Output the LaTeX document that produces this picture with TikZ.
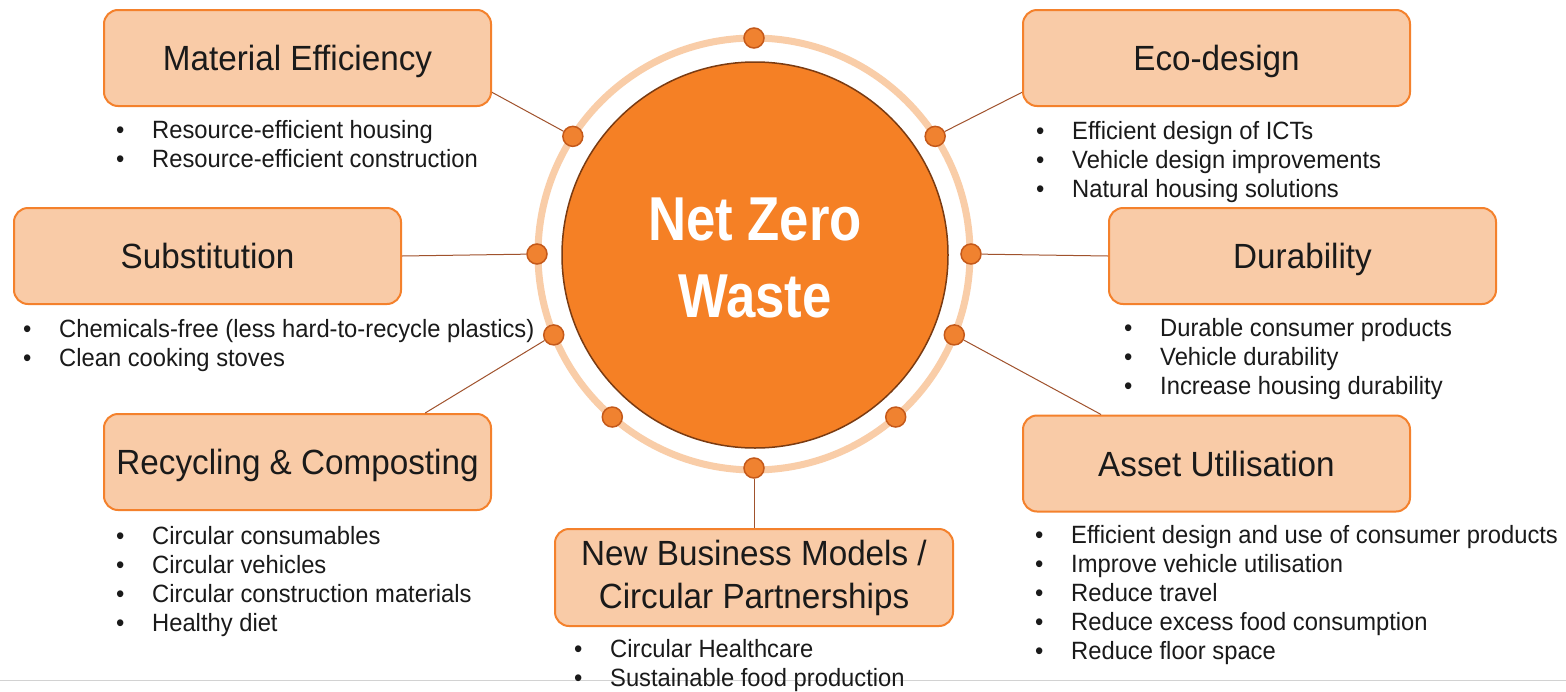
\documentclass[tikz,border=0pt]{standalone}
\usepackage{fontspec}
\setmainfont[FakeStretch=0.95]{Liberation Sans}
\newfontfamily\corefont[FakeStretch=0.85]{Liberation Sans}
\usetikzlibrary{calc}
\definecolor{boxfill}{HTML}{F9CBA7}
\definecolor{boxline}{HTML}{F4812C}
\definecolor{core}{HTML}{F58025}
\definecolor{coreline}{HTML}{7A3B12}
\definecolor{ringc}{HTML}{F9CDA8}
\definecolor{dotfill}{HTML}{F08230}
\definecolor{dotline}{HTML}{C4591A}
\definecolor{conn}{HTML}{A0522D}
\definecolor{txt}{HTML}{1A1A1A}
\newcommand\itm[1]{\textbullet & #1\\}
\newcommand\blst[1]{\begin{tabular}[t]{@{}p{36pt}@{}l@{}}#1\end{tabular}}
\begin{document}
\begin{tikzpicture}[x=1pt,y=-1pt,
  titlebox/.style={draw=boxline, line width=2pt, fill=boxfill, rounded corners=14pt,
    minimum width=387pt, minimum height=96pt, inner sep=0pt, text=txt,
    font=\fontsize{35}{42}\selectfont, align=center},
  oneline/.style={text height=25pt, text depth=0pt},
  blist/.style={anchor=base west, inner sep=0pt, text=txt, font=\fontsize{25}{29}\selectfont},
  dot/.style={circle, draw=dotline, line width=1.5pt, fill=dotfill, minimum size=20pt, inner sep=0pt},
  conn/.style={draw=conn, line width=1pt}]
\useasboundingbox (0,0) rectangle (1566,691);
\fill[white] (0,0) rectangle (1566,691);
\draw[gray!35, line width=1pt] (0,680) -- (1566,680);

% centre
\node[circle, draw=coreline, line width=1.5pt, fill=core, minimum size=386pt, inner sep=0pt] (c) at (755,255) {};
\node[text=white, font=\corefont\bfseries\fontsize{62}{77}\selectfont, align=center, inner sep=0pt] (t) at (755,258) {Net Zero\\Waste};
\coordinate (o) at (754,254);
\draw[ringc, line width=7pt] (o) circle (216pt);

% boxes
\node[titlebox, oneline] (me) at (297.5,58) {Material Efficiency};
\node[titlebox, oneline] (eco) at (1216.5,58) {Eco-design};
\node[titlebox, oneline] (sub) at (207.5,256) {Substitution};
\node[titlebox, oneline] (dur) at (1302.5,256) {Durability};
\node[titlebox, oneline] (rc) at (297.5,462) {Recycling \& Composting};
\node[titlebox, oneline] (au) at (1216.5,463.5) {Asset Utilisation};
\node[titlebox, minimum width=398pt, minimum height=97pt, font=\fontsize{35}{43}\selectfont] (nb) at (754,577.5) {New Business Models /\\Circular Partnerships};

% dots
\node[dot] (d1) at ($(o)+(90:216pt)$) {};
\node[dot] (d2) at ($(o)+(147:216pt)$) {};
\node[dot] (d3) at ($(o)+(180:217pt)$) {};
\node[dot] (d4) at ($(o)+(202:216pt)$) {};
\node[dot] (d5) at ($(o)+(229:216pt)$) {};
\node[dot] (d6) at ($(o)+(270:214pt)$) {};
\node[dot] (d7) at ($(o)+(-49:216pt)$) {};
\node[dot] (d8) at ($(o)+(-22:216pt)$) {};
\node[dot] (d9) at ($(o)+(0:217pt)$) {};
\node[dot] (d10) at ($(o)+(33:216pt)$) {};

% connectors
\draw[conn] (me.-10.5) -- (d2);
\draw[conn] (sub.east) -- (d3);
\draw[conn] (rc.21) -- (d4);
\draw[conn] (d6) -- (nb.north);
\draw[conn] (au.157.5) -- (d8);
\draw[conn] (dur.west) -- (d9);
\draw[conn] (eco.190) -- (d10);

% lists
\node[blist] (l1) at (116,138) {\blst{\itm{Resource-efficient housing}\itm{Resource-efficient construction}}};
\node[blist] (l2) at (1036,139) {\blst{\itm{Efficient design of ICTs}\itm{Vehicle design improvements}\itm{Natural housing solutions}}};
\node[blist] (l3) at (23,337) {\blst{\itm{Chemicals-free (less hard-to-recycle plastics)}\itm{Clean cooking stoves}}};
\node[blist] (l4) at (1124,336) {\blst{\itm{Durable consumer products}\itm{Vehicle durability}\itm{Increase housing durability}}};
\node[blist] (l5) at (116,544) {\blst{\itm{Circular consumables}\itm{Circular vehicles}\itm{Circular construction materials}\itm{Healthy diet}}};
\node[blist] (l6) at (1035,543) {\blst{\itm{Efficient design and use of consumer products}\itm{Improve vehicle utilisation}\itm{Reduce travel}\itm{Reduce excess food consumption}\itm{Reduce floor space}}};
\node[blist] (l7) at (574,657) {\blst{\itm{Circular Healthcare}\itm{Sustainable food production}}};
\end{tikzpicture}
\end{document}
